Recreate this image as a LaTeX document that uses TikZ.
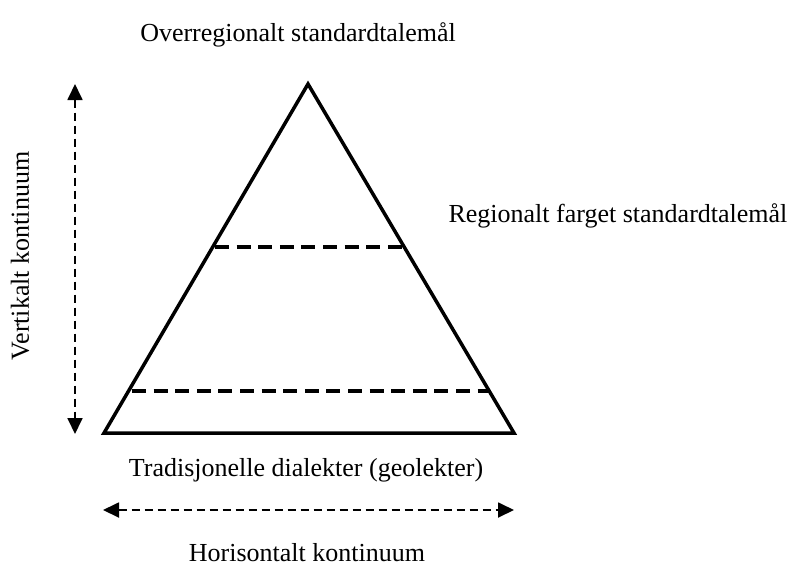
\documentclass[tikz,border=0pt]{standalone}
\usepackage{fontspec}
\setmainfont{Liberation Serif}
\usetikzlibrary{arrows.meta}

\tikzset{
    lbl/.style={font=\fontsize{26}{30}\selectfont, inner sep=0pt},
    level/.style={line width=3.5pt, dash pattern=on 14pt off 7.6pt},
    cont/.style={line width=1.8pt, dash pattern=on 8pt off 5pt,
        {Triangle[length=16pt,width=15pt]}-{Triangle[length=16pt,width=15pt]}}
}

\begin{document}
\begin{tikzpicture}[x=1pt,y=-1pt]
        \useasboundingbox (0,0) rectangle (795,568);

        \coordinate (T1) at (104,433);
        \coordinate (T2) at (514,433);
        \coordinate (T3) at (308,84);

        \coordinate (D1) at (215,247);
        \coordinate (D2) at (404,247);
        \coordinate (D3) at (132,391);
        \coordinate (D4) at (489,391);

        \coordinate (V1) at (75,84);
        \coordinate (V2) at (75,434);
        \coordinate (H1) at (103,510);
        \coordinate (H2) at (514,510);

        \draw[line width=3.5pt, line join=miter] (T1) -- (T2)
                        -- (T3)
                        -- cycle;

        \draw[level] (D1) -- (D2);
        \draw[level] (D3) -- (D4);

        \draw[cont] (V1) -- (V2);
        \draw[cont] (H1) -- (H2);

        \node[lbl] (top) at (298,35) {Overregionalt standardtalemål};
        \node[lbl] (mid) at (618,216) {Regionalt farget standardtalemål};
        \node[lbl] (bot) at (306,470) {Tradisjonelle dialekter (geolekter)};
        \node[lbl] (hor) at (307,553) {Horisontalt kontinuum};
        \node[lbl, rotate=90] (ver) at (20,256) {Vertikalt kontinuum};
    \end{tikzpicture}
\end{document}
